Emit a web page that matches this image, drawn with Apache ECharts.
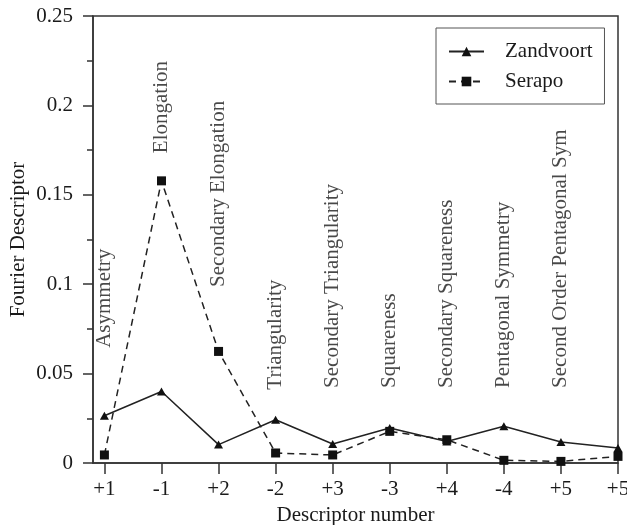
<!DOCTYPE html>
<html>
<head>
<meta charset="utf-8">
<style>
html,body{margin:0;padding:0;background:#fff;}
#chart{width:627px;height:525px;}
</style>
<script src="https://cdn.jsdelivr.net/npm/echarts@6/dist/echarts.min.js"></script>
</head>
<body>
<div id="chart"></div>
<script>
const xLabels = ['+1', '-1', '+2', '-2', '+3', '-3', '+4', '-4', '+5', '+5'];
const zandvoort = [0.0264, 0.0400, 0.0103, 0.0242, 0.0106, 0.0196, 0.0120, 0.0205, 0.0117, 0.0084];
const serapo = [0.0045, 0.1578, 0.0624, 0.0056, 0.0045, 0.0177, 0.0130, 0.0015, 0.0009, 0.0037];
const annoNames = ['Asymmetry', 'Elongation', 'Secondary Elongation', 'Triangularity',
  'Secondary Triangularity', 'Squareness', 'Secondary Squareness', 'Pentagonal Symmetry',
  'Second Order Pentagonal Sym'];
const annoY = [0.0644, 0.1733, 0.0985, 0.0410, 0.0420, 0.0420, 0.0420, 0.0420, 0.0420];
const yTicks = [0, 0.05, 0.1, 0.15, 0.2, 0.25];

const FONT = 'Liberation Serif';
const INK = '#1a1a1a';
const AX = '#333';
const xPos = xLabels.map((_, i) => i + 1);

const chart = echarts.init(document.getElementById('chart'), null, {renderer: 'canvas'});
chart.setOption({
  backgroundColor: '#fff',
  animation: false,
  textStyle: {fontFamily: FONT, color: INK},
  grid: {left: 93, right: 9, top: 16, bottom: 62, containLabel: false, outerBoundsMode: 'none',
    show: true, borderColor: AX, borderWidth: 1.5, backgroundColor: 'transparent'},
  legend: {
    data: ['Zandvoort', 'Serapo'],
    orient: 'vertical',
    left: 436, top: 28,
    padding: [13, 12, 12, 12],
    itemWidth: 35, itemHeight: 12, itemGap: 9,
    borderColor: '#555', borderWidth: 1,
    textStyle: {fontFamily: FONT, fontSize: 21, color: INK, lineHeight: 21, padding: [0, 0, 0, 16]}
  },
  xAxis: {
    type: 'value', min: 0.8, max: 10,
    name: 'Descriptor number', nameLocation: 'middle', nameGap: 38,
    nameTextStyle: {fontFamily: FONT, fontSize: 21, color: INK},
    axisLine: {show: true, onZero: false, lineStyle: {color: AX, width: 1.5}},
    axisTick: {show: true, inside: false, length: 11, lineStyle: {color: AX, width: 1.5}, customValues: xPos},
    axisLabel: {show: true, margin: 16, fontFamily: FONT, fontSize: 21, color: INK, customValues: xPos,
      formatter: v => xLabels[Math.round(v) - 1]},
    splitLine: {show: false}
  },
  yAxis: {
    type: 'value', min: 0, max: 0.25, interval: 0.05,
    name: 'Fourier Descriptor', nameLocation: 'middle', nameGap: 64, nameMoveOverlap: false,
    nameTextStyle: {fontFamily: FONT, fontSize: 21, color: INK},
    axisLine: {show: true, lineStyle: {color: AX, width: 1.5}},
    axisTick: {show: true, inside: false, length: 10, lineStyle: {color: AX, width: 1.5}},
    minorTick: {show: true, splitNumber: 2, length: 6, lineStyle: {color: AX, width: 1.5}},
    axisLabel: {margin: 20, fontFamily: FONT, fontSize: 21, color: INK,
      formatter: v => String(yTicks[Math.round(v / 0.05)])},
    splitLine: {show: false}, minorSplitLine: {show: false}
  },
  series: [
    {
      name: 'Zandvoort', type: 'line',
      data: zandvoort.map((v, i) => [xPos[i], v]),
      symbol: 'triangle', symbolSize: [9, 8], showSymbol: true,
      itemStyle: {color: '#111'},
      lineStyle: {color: '#222', width: 1.5, type: 'solid'},
      z: 3
    },
    {
      name: 'Serapo', type: 'line',
      data: serapo.map((v, i) => [xPos[i], v]),
      symbol: 'rect', symbolSize: 9, showSymbol: true,
      itemStyle: {color: '#111'},
      lineStyle: {color: '#222', width: 1.5, type: [7, 5]},
      z: 3
    },
    {
      name: 'annotations', type: 'scatter',
      data: annoNames.map((n, i) => [xPos[i], annoY[i], n]),
      symbolSize: 0, silent: true,
      label: {
        show: true, position: 'inside', rotate: 90, align: 'left', verticalAlign: 'middle',
        fontFamily: FONT, fontSize: 21, color: INK,
        formatter: p => p.value[2]
      },
      z: 2
    }
  ]
});
</script>
</body>
</html>
